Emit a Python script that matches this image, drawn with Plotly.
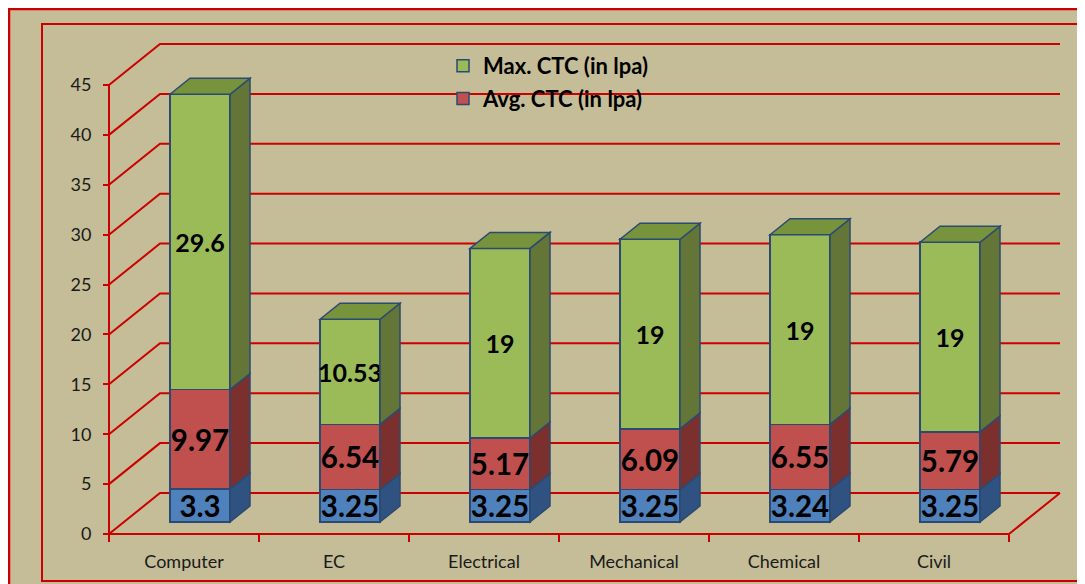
import plotly.graph_objects as go

# ---- data ----
categories = ["Computer", "EC", "Electrical", "Mechanical", "Chemical", "Civil"]
min_ctc = [3.3, 3.25, 3.25, 3.25, 3.24, 3.25]
avg_ctc = [9.97, 6.54, 5.17, 6.09, 6.55, 5.79]
max_ctc = [29.6, 10.53, 19, 19, 19, 19]
y_ticks = [0, 5, 10, 15, 20, 25, 30, 35, 40, 45]

# ---- geometry (page pixels; the page body adds an 8px margin) ----
W, H = 1085, 584
OFF = 8
PX_X = 150.0          # pixels per category
PX_Y = 449.0 / 45     # pixels per unit
X0_PX = 109 - OFF     # pixel of first category boundary
Y0_PX = 534 - OFF     # pixel (from top) of value 0 on front plane
BAR_SHIFT = (16, 12)  # bar plane offset from front plane
BAR_DEPTH = (20, 16)
WALL_DEPTH = (51, 41)
WALL_RIGHT_PX = 1060 - OFF
RED = "#CC0000"
EDGE = "#2B4A72"
FONT = "Lato"


def px_x(p):
    return (p - OFF) / W


def px_y(p):
    return 1 - (p - OFF) / H


xr = [-0.5 - X0_PX / PX_X, -0.5 + (W - X0_PX) / PX_X]
yr = [-(H - Y0_PX) / PX_Y, Y0_PX / PX_Y]
sh = BAR_SHIFT[1] / PX_Y
y2r = [yr[0] - sh, yr[1] - sh]

bar_w = 0.4
bar_off = -bar_w / 2 + BAR_SHIFT[0] / PX_X

series = [
    ("Min. CTC (in lpa)", min_ctc, "#4F81BD", "#2F5281", None, False, 29.5, 3),
    ("Avg. CTC (in lpa)", avg_ctc, "#C0504D", "#7C302E", None, True, 29.5, 2),
    ("Max. CTC (in lpa)", max_ctc, "#9BBB59", "#637537", "#77933C", True, 25, 1),
]

fig = go.Figure()
for name, vals, col, side, top, show, fs, rank in series:
    fig.add_trace(go.Bar(
        name=name, x=categories, y=vals, xaxis="x", yaxis="y2",
        width=bar_w, offset=bar_off,
        marker=dict(color=col, line=dict(color=EDGE, width=1.5)),
        texttemplate="%{y}", textposition="inside", insidetextanchor="middle",
        textangle=0, constraintext="none",
        textfont=dict(family=FONT, size=fs, color="black", weight="bold"),
        showlegend=show, legendgroup=name, legendrank=rank,
    ))

shapes = []
# background and borders
shapes.append(dict(type="rect", xref="paper", yref="paper", x0=px_x(9), x1=1.2,
                   y0=-0.2, y1=px_y(9), fillcolor="#C4BD97",
                   line=dict(color=RED, width=2.5), layer="below"))
shapes.append(dict(type="rect", xref="paper", yref="paper", x0=px_x(42), x1=1.2,
                   y0=px_y(581), y1=px_y(24), fillcolor="rgba(0,0,0,0)",
                   line=dict(color=RED, width=2), layer="below"))

# walls (front plane coordinates)
wdx = WALL_DEPTH[0] / PX_X
wdy = WALL_DEPTH[1] / PX_Y
x_left = -0.5
x_right = len(categories) - 0.5
x_back_end = -0.5 + (WALL_RIGHT_PX - X0_PX) / PX_X
for v in y_ticks:
    shapes.append(dict(type="path", xref="x", yref="y",
                       path=f"M {x_left},{v} L {x_left + wdx},{v + wdy} L {x_back_end},{v + wdy}",
                       line=dict(color=RED, width=2), layer="below"))
# floor front edge and right edge
shapes.append(dict(type="path", xref="x", yref="y",
                   path=f"M {x_left},0 L {x_right},0 L {x_right + wdx},{wdy}",
                   line=dict(color=RED, width=2), layer="below"))
# vertical axis line
shapes.append(dict(type="line", xref="x", yref="y", x0=x_left, x1=x_left,
                   y0=y_ticks[0], y1=y_ticks[-1],
                   line=dict(color=RED, width=2), layer="below"))

# 3D faces of the bars (bar plane coordinates)
ddx = BAR_DEPTH[0] / PX_X
ddy = BAR_DEPTH[1] / PX_Y
for i in range(len(categories)):
    xl = i + bar_off
    xrt = xl + bar_w
    b0 = 0.0
    for name, vals, col, side, top, show, fs, rank in series:
        b1 = b0 + vals[i]
        shapes.append(dict(type="path", xref="x", yref="y2",
                           path=f"M {xrt},{b0} L {xrt + ddx},{b0 + ddy} L {xrt + ddx},{b1 + ddy} L {xrt},{b1} Z",
                           fillcolor=side, line=dict(color=EDGE, width=1.5), layer="above"))
        if top is not None:
            shapes.append(dict(type="path", xref="x", yref="y2",
                               path=f"M {xl},{b1} L {xl + ddx},{b1 + ddy} L {xrt + ddx},{b1 + ddy} L {xrt},{b1} Z",
                               fillcolor=top, line=dict(color=EDGE, width=1.5), layer="above"))
        b0 = b1

fig.update_layout(
    width=W, height=H,
    margin=dict(l=0, r=0, t=0, b=0),
    paper_bgcolor="white", plot_bgcolor="rgba(0,0,0,0)",
    barmode="stack",
    font=dict(family=FONT, color="#1a1a1a"),
    shapes=shapes,
    showlegend=True,
    legend=dict(x=px_x(443), y=px_y(45), xanchor="left", yanchor="top",
                bgcolor="rgba(0,0,0,0)", traceorder="grouped",
                tracegroupgap=1,
                font=dict(family=FONT, size=22, color="black", weight="bold")),
    xaxis=dict(type="category", range=xr, domain=[0, 1], anchor="free",
               position=(H - Y0_PX) / H, showgrid=False, zeroline=False,
               showline=False, tickson="boundaries", ticks="outside",
               ticklen=7, tickwidth=2, tickcolor=RED,
               tickfont=dict(family=FONT, size=18, color="#1a1a1a"),
               ticklabelstandoff=15),
    yaxis=dict(range=yr, domain=[0, 1], anchor="free", position=X0_PX / W,
               showgrid=False, zeroline=False, showline=False,
               tickvals=y_ticks, ticks="outside", ticklen=6, tickwidth=2,
               tickcolor=RED, tickfont=dict(family=FONT, size=18, color="#1a1a1a"),
               ticklabelstandoff=8),
    yaxis2=dict(range=y2r, overlaying="y", anchor="x", visible=False,
                showgrid=False, zeroline=False),
)

fig.write_html("out.html")
